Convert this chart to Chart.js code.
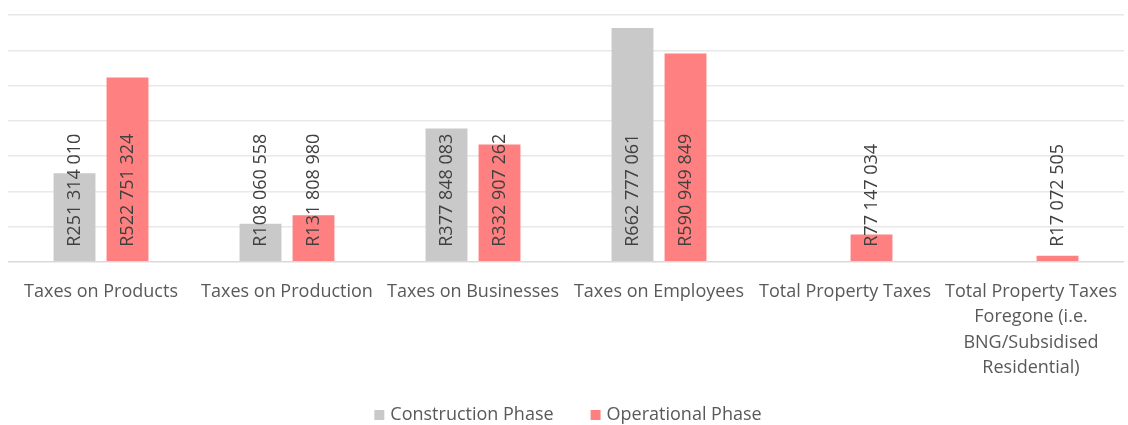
<!DOCTYPE html>
<html>
<head>
<meta charset="utf-8">
<script src="https://cdn.jsdelivr.net/npm/chart.js@4"></script>
<style>
  html, body { margin: 0; padding: 0; background: #fff; }
  #wrap { width: 1128px; height: 425px; position: relative; }
</style>
</head>
<body>
<div id="wrap"><canvas id="taxChart"></canvas></div>
<script>
const categories = [
    'Taxes on Products',
    'Taxes on Production',
    'Taxes on Businesses',
    'Taxes on Employees',
    'Total Property Taxes',
    ['Total Property Taxes', 'Foregone (i.e.', 'BNG/Subsidised', 'Residential)']
];
const constructionPhase = [251314010, 108060558, 377848083, 662777061, null, null];
const operationalPhase = [522751324, 131808980, 332907262, 590949849, 77147034, 17072505];
const seriesNames = ['Construction Phase', 'Operational Phase'];
const seriesColors = ['#C9C9C9', '#FF8080'];

const FONT = "'Open Sans', sans-serif";

function fmtRand(v) {
    return 'R' + Math.round(v).toString().replace(/\B(?=(\d{3})+(?!\d))/g, ' ');
}

// value labels, rotated, reading upward from the bar base
const barLabels = {
    id: 'barLabels',
    afterDatasetsDraw(chart) {
        const ctx = chart.ctx;
        const base = chart.scales.y.getPixelForValue(0);
        ctx.save();
        ctx.font = '18px ' + FONT;
        ctx.fillStyle = '#404040';
        ctx.textAlign = 'left';
        ctx.textBaseline = 'middle';
        chart.data.datasets.forEach((ds, i) => {
            chart.getDatasetMeta(i).data.forEach((bar, j) => {
                const v = ds.data[j];
                if (v == null) return;
                ctx.save();
                ctx.translate(bar.x, base - 15);
                ctx.rotate(-Math.PI / 2);
                ctx.fillText(fmtRand(v), 0, 0);
                ctx.restore();
            });
        });
        ctx.restore();
    }
};

// legend at the bottom, boxes close to their text like the original
const bottomLegend = {
    id: 'bottomLegend',
    afterDraw(chart) {
        const ctx = chart.ctx;
        ctx.save();
        ctx.font = '18px ' + FONT;
        ctx.textBaseline = 'middle';
        ctx.textAlign = 'left';
        const box = 10, gapBox = 6, gapItem = 37;
        const widths = seriesNames.map(n => ctx.measureText(n).width);
        let total = 0;
        widths.forEach((w, i) => { total += box + gapBox + w + (i ? gapItem : 0); });
        let x = (chart.width - total) / 2 + 4;
        const y = 415;
        seriesNames.forEach((n, i) => {
            ctx.fillStyle = seriesColors[i];
            ctx.fillRect(x, y - box / 2, box, box);
            ctx.fillStyle = '#595959';
            ctx.fillText(n, x + box + gapBox, y);
            x += box + gapBox + widths[i] + gapItem;
        });
        ctx.restore();
    }
};

new Chart(document.getElementById('taxChart'), {
    type: 'bar',
    data: {
        labels: categories,
        datasets: [
            { label: seriesNames[0], data: constructionPhase, backgroundColor: seriesColors[0] },
            { label: seriesNames[1], data: operationalPhase, backgroundColor: seriesColors[1] }
        ]
    },
    options: {
        responsive: true,
        maintainAspectRatio: false,
        animation: false,
        categoryPercentage: 0.57,
        barPercentage: 0.79,
        layout: { padding: { left: 8, right: 4, top: 15, bottom: 35 } },
        plugins: {
            tooltip: { enabled: false },
            legend: { display: false }
        },
        scales: {
            x: {
                grid: { display: false },
                border: { display: false },
                ticks: {
                    color: '#595959',
                    maxRotation: 0,
                    autoSkip: false,
                    padding: 9,
                    font: { family: FONT, size: 18, lineHeight: 1.42 }
                }
            },
            y: {
                min: 0,
                max: 700000000,
                ticks: { display: false, stepSize: 100000000 },
                border: { display: false },
                grid: {
                    color: c => c.tick.value === 0 ? '#D9D9D9' : '#E8E8E8',
                    lineWidth: 1.5,
                    drawTicks: false
                }
            }
        }
    },
    plugins: [barLabels, bottomLegend]
});
</script>
</body>
</html>
